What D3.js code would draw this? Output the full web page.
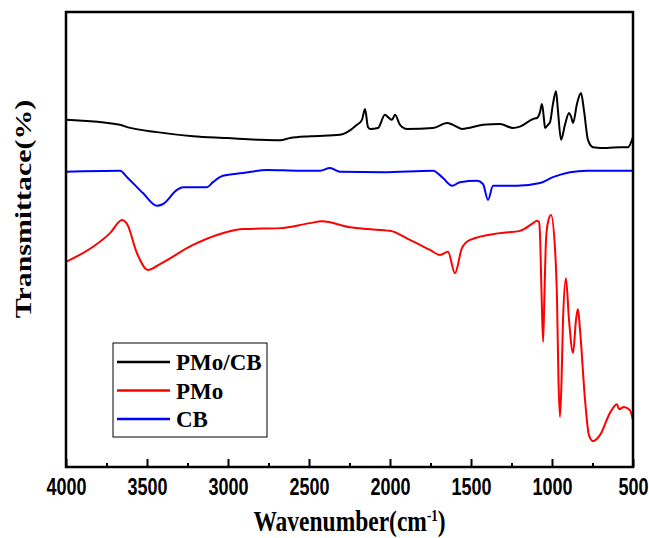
<!DOCTYPE html>
<html>
<head>
<meta charset="utf-8">
<script src="https://cdn.jsdelivr.net/npm/d3@7"></script>
<style>
  body { margin: 0; background: #fff; }
</style>
</head>
<body>
<div id="chart"></div>
<script>
// wavenumber (cm-1) and transmittance (arb. units, offset traces)
const pmoCbWn = [4000, 3667, 3623, 3438, 3216, 3006, 2802, 2679, 2617, 2494, 2309, 2204, 2173, 2154, 2136, 2123, 2074, 2031, 2012, 1988, 1969, 1938, 1895, 1735, 1648, 1611, 1556, 1426, 1321, 1241, 1198, 1117, 1093, 1074, 1062, 1049, 1043, 1025, 1012, 994, 975, 963, 944, 920, 895, 883, 870, 846, 821, 802, 778, 747, 660, 580, 531, 500];
const pmoCbT = [76.3, 75.2, 74.7, 73.6, 72.7, 72.3, 71.9, 71.8, 72.3, 72.7, 73.0, 75.2, 76.3, 78.7, 74.7, 74.3, 74.5, 77.4, 76.9, 76.3, 77.4, 75.2, 74.3, 74.5, 75.6, 75.2, 74.3, 75.2, 75.4, 74.5, 74.8, 76.5, 76.7, 78.0, 79.8, 76.3, 74.5, 75.2, 75.8, 79.8, 82.6, 78.2, 71.9, 75.2, 77.8, 77.1, 75.6, 79.8, 82.2, 78.2, 71.9, 70.3, 70.1, 70.3, 70.3, 72.5];

const pmoWn = [4000, 3833, 3728, 3654, 3623, 3562, 3494, 3420, 3216, 3068, 2907, 2679, 2494, 2420, 2247, 2142, 2000, 1877, 1753, 1691, 1642, 1599, 1556, 1506, 1321, 1198, 1117, 1093, 1080, 1074, 1065, 1055, 1046, 1037, 1025, 1006, 981, 969, 960, 951, 941, 932, 914, 895, 870, 852, 840, 827, 796, 772, 747, 704, 642, 599, 586, 556, 519, 500];
const pmoT = [45.1, 48.4, 51.4, 54.3, 53.4, 47.0, 43.3, 44.6, 48.8, 51.0, 52.3, 52.5, 53.6, 54.0, 52.7, 52.3, 51.9, 49.9, 47.7, 46.6, 47.3, 42.6, 48.1, 49.9, 51.4, 51.9, 53.6, 54.1, 53.8, 51.0, 38.9, 27.5, 38.9, 49.9, 53.8, 55.4, 47.7, 36.7, 19.1, 11.0, 19.1, 32.3, 41.5, 32.3, 25.1, 32.3, 34.7, 30.1, 14.7, 7.0, 5.7, 7.0, 11.9, 13.8, 12.7, 13.2, 12.5, 10.3];

const cbWn = [4000, 3667, 3623, 3525, 3438, 3401, 3315, 3278, 3130, 3093, 3031, 2907, 2759, 2556, 2432, 2370, 2309, 2043, 1735, 1673, 1617, 1568, 1463, 1426, 1395, 1364, 1216, 1074, 994, 784, 580, 500];
const cbT = [64.9, 65.1, 63.7, 60.2, 57.4, 57.8, 60.9, 61.5, 61.5, 62.6, 64.0, 64.6, 65.3, 65.1, 65.1, 65.7, 64.9, 64.8, 65.1, 63.5, 61.8, 62.6, 62.9, 62.2, 58.7, 61.8, 61.8, 62.4, 63.7, 65.1, 65.1, 65.1];

const seriesNames = ["PMo/CB", "PMo", "CB"];
const seriesColors = ["#000000", "#ff0000", "#0000ff"];
const xTicks = [4000, 3500, 3000, 2500, 2000, 1500, 1000, 500];
const xMinorTicks = [3750, 3250, 2750, 2250, 1750, 1250, 750];

const series = [
    { name: seriesNames[0], color: seriesColors[0], values: pmoCbWn.map((w, i) => ({ w: w, t: pmoCbT[i] })) },
    { name: seriesNames[1], color: seriesColors[1], values: pmoWn.map((w, i) => ({ w: w, t: pmoT[i] })) },
    { name: seriesNames[2], color: seriesColors[2], values: cbWn.map((w, i) => ({ w: w, t: cbT[i] })) }
];

const margin = { top: 12, right: 16, bottom: 71, left: 66 };
const width = 649 - margin.left - margin.right;
const height = 538 - margin.top - margin.bottom;
const serif = "Liberation Serif, Times New Roman, serif";

const svg = d3.select("#chart").append("svg")
    .attr("width", 649)
    .attr("height", 538)
    .append("g")
    .attr("transform", `translate(${margin.left},${margin.top})`);

const x = d3.scaleLinear().domain([4000, 500]).range([0, width]);
const y = d3.scaleLinear().domain([0, 100]).range([height, 0]);

const line = d3.line()
    .x(d => x(d.w))
    .y(d => y(d.t))
    .curve(d3.curveMonotoneX);

svg.selectAll(".trace")
    .data(series)
    .enter()
    .append("path")
    .attr("fill", "none")
    .attr("stroke", d => d.color)
    .attr("stroke-width", 2)
    .attr("stroke-linejoin", "round")
    .attr("d", d => line(d.values));

// minor ticks
svg.append("g")
    .attr("transform", `translate(0, ${height})`)
    .call(d3.axisBottom(x).tickValues(xMinorTicks).tickSize(-4).tickFormat(""))
    .call(g => g.select(".domain").remove())
    .selectAll("line").attr("stroke-width", 2);

// major ticks
const xAxis = svg.append("g")
    .attr("transform", `translate(0, ${height})`)
    .call(d3.axisBottom(x).tickValues(xTicks).tickSize(-8).tickPadding(9).tickFormat(d3.format("d")));
xAxis.select(".domain").remove();
xAxis.selectAll("line").attr("stroke-width", 2);
xAxis.selectAll("text")
    .attr("transform", "scale(1,1.3)")
    .style("font-family", "Liberation Sans, Arial, sans-serif")
    .style("font-weight", "bold")
    .style("font-size", "18px")
    .attr("fill", "#000");

// frame
svg.append("rect")
    .attr("width", width)
    .attr("height", height)
    .attr("fill", "none")
    .attr("stroke", "#000")
    .attr("stroke-width", 2.5);

// X-axis Label
const xLabel = svg.append("text")
    .attr("transform", `translate(${width / 2}, ${height + 64}) scale(1,1.22)`)
    .attr("text-anchor", "middle")
    .style("font-family", serif)
    .style("font-weight", "bold")
    .style("font-size", "23.5px");
xLabel.append("tspan").text("Wavenumber(cm");
xLabel.append("tspan").attr("dy", -8).style("font-size", "13px").text("-1");
xLabel.append("tspan").attr("dy", 8).text(")");

// Y-axis Label
svg.append("text")
    .attr("transform", `translate(-35, 197) rotate(-90) scale(1.3,1)`)
    .attr("text-anchor", "middle")
    .style("font-family", serif)
    .style("font-weight", "bold")
    .style("font-size", "23px")
    .text("Transmittace(%)");

// legend
const legend = svg.append("g").attr("transform", "translate(47, 331)");
legend.append("rect")
    .attr("width", 154)
    .attr("height", 94)
    .attr("fill", "#fff")
    .attr("stroke", "#000")
    .attr("stroke-width", 1);

const item = legend.selectAll(".item")
    .data(series)
    .enter()
    .append("g")
    .attr("transform", (d, i) => `translate(0, ${19 + i * 28.5})`);

item.append("line")
    .attr("x1", 4)
    .attr("x2", 57)
    .attr("stroke", d => d.color)
    .attr("stroke-width", 2.5);

item.append("text")
    .attr("x", 63)
    .attr("dy", "0.35em")
    .style("font-family", serif)
    .style("font-weight", "bold")
    .style("font-size", "23px")
    .text(d => d.name);
</script>
</body>
</html>
